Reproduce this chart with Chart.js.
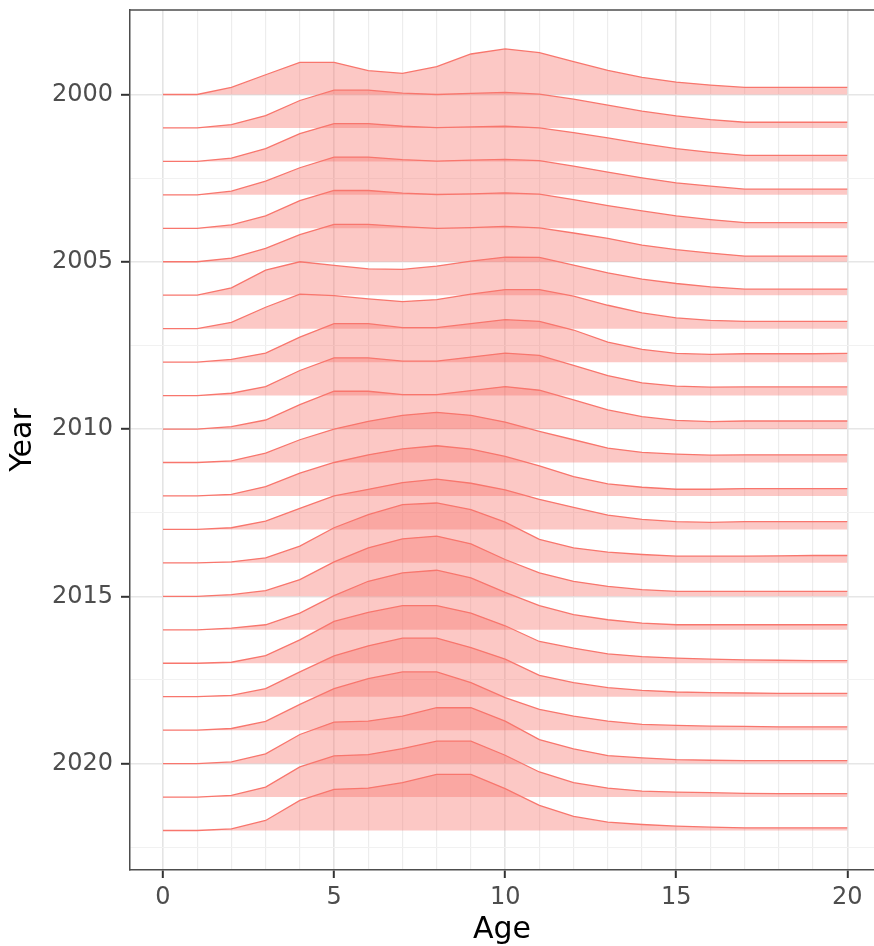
<!DOCTYPE html>
<html>
<head>
<meta charset="utf-8">
<title>Ridgeline: age by year</title>
<script src="https://cdn.jsdelivr.net/npm/chart.js@4.4.1/dist/chart.umd.min.js"></script>
<style>
  html, body { margin: 0; padding: 0; background: #fff; }
  #wrap { width: 874px; height: 946px; }
</style>
</head>
<body>
<div id="wrap"><canvas id="ridges" width="874" height="946"></canvas></div>
<script>
// --- Data (ridge heights in "year" units above each baseline) ---
const ages  = [0,1,2,3,4,5,6,7,8,9,10,11,12,13,14,15,16,17,18,19,20];
const years = [2000,2001,2002,2003,2004,2005,2006,2007,2008,2009,2010,2011,
               2012,2013,2014,2015,2016,2017,2018,2019,2020,2021,2022];

const h2000 = [0,0,0.21,0.59,0.96,0.96,0.71,0.63,0.83,1.21,1.36,1.25,0.98,0.72,0.51,0.37,0.28,0.21,0.21,0.21,0.21];
const h2001 = [0,0,0.10,0.37,0.82,1.13,1.13,1.04,1.00,1.03,1.06,1.01,0.86,0.68,0.50,0.36,0.25,0.17,0.17,0.17,0.17];
const h2002 = [0,0,0.10,0.38,0.83,1.13,1.13,1.05,1.01,1.03,1.05,1.00,0.86,0.70,0.53,0.38,0.27,0.18,0.18,0.18,0.18];
const h2003 = [0,0,0.11,0.41,0.81,1.13,1.13,1.05,1.01,1.04,1.06,1.02,0.86,0.68,0.51,0.36,0.26,0.17,0.17,0.17,0.17];
const h2004 = [0,0,0.10,0.37,0.83,1.13,1.13,1.05,1.01,1.03,1.06,1.02,0.86,0.68,0.52,0.37,0.26,0.17,0.17,0.17,0.17];
const h2005 = [0,0,0.11,0.40,0.81,1.12,1.12,1.05,1.00,1.02,1.06,1.01,0.86,0.70,0.50,0.36,0.26,0.17,0.17,0.17,0.17];
const h2006 = [0,0,0.22,0.75,1.00,0.89,0.79,0.77,0.87,1.02,1.14,1.13,0.90,0.67,0.48,0.35,0.25,0.18,0.18,0.18,0.18];
const h2007 = [0,0,0.19,0.64,1.03,0.99,0.89,0.81,0.87,1.03,1.17,1.17,0.97,0.70,0.47,0.32,0.25,0.22,0.22,0.22,0.22];
const h2008 = [0,0,0.08,0.27,0.75,1.15,1.15,1.03,1.03,1.15,1.27,1.22,0.96,0.60,0.38,0.26,0.23,0.25,0.25,0.25,0.26];
const h2009 = [0,0,0.07,0.27,0.75,1.13,1.13,1.03,1.03,1.15,1.27,1.20,0.90,0.60,0.38,0.28,0.25,0.26,0.26,0.26,0.26];
const h2010 = [0,0,0.07,0.27,0.73,1.13,1.13,1.03,1.03,1.15,1.27,1.16,0.87,0.57,0.37,0.26,0.22,0.24,0.24,0.24,0.24];
const h2011 = [0,0,0.05,0.28,0.68,1.00,1.23,1.41,1.50,1.41,1.21,0.93,0.68,0.43,0.30,0.25,0.22,0.23,0.23,0.23,0.23];
const h2012 = [0,0,0.05,0.28,0.68,1.00,1.23,1.41,1.50,1.40,1.18,0.90,0.58,0.36,0.26,0.20,0.20,0.22,0.22,0.22,0.22];
const h2013 = [0,0,0.05,0.25,0.63,1.00,1.20,1.40,1.50,1.38,1.18,0.90,0.66,0.43,0.30,0.23,0.21,0.23,0.23,0.23,0.23];
const h2014 = [0,0,0.03,0.15,0.50,1.05,1.44,1.74,1.79,1.59,1.22,0.70,0.45,0.32,0.25,0.20,0.20,0.20,0.21,0.22,0.22];
const h2015 = [0,0,0.05,0.17,0.50,1.03,1.45,1.72,1.80,1.57,1.10,0.70,0.45,0.30,0.20,0.15,0.15,0.15,0.15,0.15,0.15];
const h2016 = [0,0,0.05,0.15,0.50,1.02,1.45,1.70,1.78,1.55,1.12,0.72,0.45,0.30,0.20,0.15,0.15,0.15,0.15,0.15,0.15];
const h2017 = [0,0,0.03,0.23,0.70,1.25,1.52,1.72,1.72,1.50,1.12,0.65,0.45,0.28,0.20,0.15,0.12,0.10,0.09,0.08,0.08];
const h2018 = [0,0,0.04,0.24,0.74,1.22,1.52,1.75,1.75,1.47,1.12,0.64,0.42,0.27,0.19,0.14,0.12,0.11,0.10,0.10,0.10];
const h2019 = [0,0,0.05,0.26,0.77,1.24,1.54,1.74,1.74,1.42,0.97,0.62,0.42,0.27,0.17,0.14,0.12,0.11,0.10,0.10,0.10];
const h2020 = [0,0,0.05,0.29,0.87,1.24,1.27,1.42,1.67,1.67,1.27,0.72,0.44,0.24,0.17,0.12,0.10,0.09,0.09,0.09,0.09];
const h2021 = [0,0,0.05,0.30,0.90,1.23,1.27,1.45,1.67,1.67,1.25,0.75,0.43,0.27,0.18,0.15,0.13,0.11,0.10,0.10,0.10];
const h2022 = [0,0,0.05,0.30,0.90,1.23,1.27,1.43,1.68,1.68,1.25,0.75,0.42,0.25,0.18,0.13,0.10,0.08,0.08,0.08,0.08];

const ridgeHeights = [h2000,h2001,h2002,h2003,h2004,h2005,h2006,h2007,h2008,h2009,h2010,h2011,
                      h2012,h2013,h2014,h2015,h2016,h2017,h2018,h2019,h2020,h2021,h2022];

// tick / grid positions
const xGridValues  = ages;
const xLabelValues = [0, 5, 10, 15, 20];
const yGridValues  = [2000, 2002.5, 2005, 2007.5, 2010, 2012.5, 2015, 2017.5, 2020, 2022.5];
const yLabelValues = [2000, 2005, 2010, 2015, 2020];

// --- Styles ---
const RIDGE_LINE = '#F8766D';
const RIDGE_FILL = 'rgba(248, 118, 109, 0.4)';
const AXIS_TEXT  = '#4D4D4D';
const BORDER     = '#4D4D4D';

Chart.defaults.font.family = "'DejaVu Sans', sans-serif";

// top edge of the panel border (left/bottom come from the axes)
const panelTop = {
  id: 'panelTop',
  afterDraw(chart) {
    const { ctx, chartArea: a } = chart;
    ctx.save();
    ctx.strokeStyle = BORDER;
    ctx.lineWidth = 1.5;
    ctx.beginPath();
    ctx.moveTo(a.left, a.top);
    ctx.lineTo(a.right, a.top);
    ctx.stroke();
    ctx.restore();
  },
};

const datasets = years.map((yr, i) => ({
  label: String(yr),
  data: ages.map((a, j) => ({ x: a, y: yr - ridgeHeights[i][j] })),
  borderColor: RIDGE_LINE,
  borderWidth: 1.3,
  backgroundColor: RIDGE_FILL,
  fill: { value: yr },
  pointRadius: 0,
  pointHoverRadius: 0,
  tension: 0,
  order: years.length - i,   // lower ridges drawn on top
}));

const isMajor = (list) => (ctx) => ctx.tick && list.includes(ctx.tick.value);

// drop the label overhang padding so the panel keeps its fixed edges
function noOverhang(s) {
  s.paddingTop = 0; s.paddingBottom = 0; s.paddingLeft = 0; s.paddingRight = 0;
}

new Chart(document.getElementById('ridges'), {
  type: 'line',
  data: { datasets },
  plugins: [panelTop],
  options: {
    responsive: false,
    animation: false,
    layout: { padding: { top: 10, right: 0, left: 0, bottom: 0 } },
    plugins: { legend: { display: false }, tooltip: { enabled: false } },
    scales: {
      x: {
        type: 'linear',
        min: -0.964, max: 20.78,
        afterBuildTicks: (s) => { s.ticks = xGridValues.map(v => ({ value: v })); },
        afterFit: (s) => { s.height = 76; noOverhang(s); },
        ticks: {
          autoSkip: false, maxRotation: 0, padding: 5,
          color: AXIS_TEXT, font: { size: 24 },
          callback: (v) => xLabelValues.includes(v) ? String(v) : '',
        },
        grid: {
          color: (ctx) => isMajor(xLabelValues)(ctx) ? '#E4E4E4' : '#EDEDED',
          lineWidth: (ctx) => isMajor(xLabelValues)(ctx) ? 1.6 : 1.2,
          tickLength: 8,
          tickWidth: 2,
          tickColor: (ctx) => isMajor(xLabelValues)(ctx) ? '#333333' : 'rgba(0,0,0,0)',
        },
        border: { color: BORDER, width: 1.5 },
        title: { display: true, text: 'Age', color: '#000', font: { size: 30 }, padding: { top: 0, bottom: -2 } },
      },
      y: {
        type: 'linear',
        reverse: true,
        min: 1997.475, max: 2023.18,
        afterBuildTicks: (s) => { s.ticks = yGridValues.map(v => ({ value: v })); },
        afterFit: (s) => { s.width = 130; noOverhang(s); },
        ticks: {
          autoSkip: false, padding: 8,
          color: AXIS_TEXT, font: { size: 24 },
          callback: (v) => yLabelValues.includes(v) ? String(v) : '',
        },
        grid: {
          color: (ctx) => isMajor(yLabelValues)(ctx) ? '#E6E6E6' : '#F1F1F1',
          lineWidth: (ctx) => isMajor(yLabelValues)(ctx) ? 1.6 : 1.1,
          tickLength: 9,
          tickWidth: 2,
          tickColor: (ctx) => isMajor(yLabelValues)(ctx) ? '#333333' : 'rgba(0,0,0,0)',
        },
        border: { color: BORDER, width: 1.5 },
        title: { display: true, text: 'Year', color: '#000', font: { size: 30 }, padding: { top: 5, bottom: 0 } },
      },
    },
  },
});
</script>
</body>
</html>
